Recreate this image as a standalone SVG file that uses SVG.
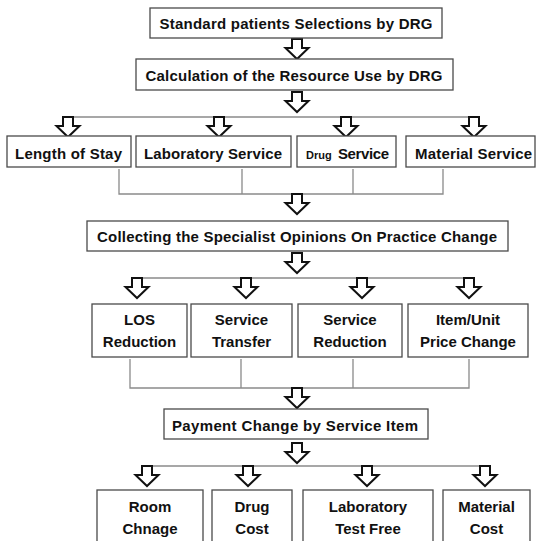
<svg xmlns="http://www.w3.org/2000/svg" xmlns:xlink="http://www.w3.org/1999/xlink" width="538" height="541" viewBox="0 0 538 541">
<style>
.box{fill:#fff;stroke:#4a4a4a;stroke-width:1.3}
.t{font-family:"Liberation Sans",Arial,sans-serif;font-weight:bold;font-size:15px;fill:#111;text-anchor:middle}
.line{fill:none;stroke:#8a8a8a;stroke-width:1.3}
.arr{fill:#fff;stroke:#111;stroke-width:2;stroke-linejoin:miter}
</style>
<defs>
<path id="arr" d="M-5,0 H5 V9 H11.5 L0,20 L-11.5,9 H-5 Z"/>
</defs>
<rect width="538" height="541" fill="#fff"/>
<g id="connectors">
<use xlink:href="#arr" class="arr" x="297" y="39"/>
<use xlink:href="#arr" class="arr" x="297" y="92"/>
<path class="line" d="M68,117 H474"/>
<use xlink:href="#arr" class="arr" x="68" y="117"/>
<use xlink:href="#arr" class="arr" x="219" y="117"/>
<use xlink:href="#arr" class="arr" x="346" y="117"/>
<use xlink:href="#arr" class="arr" x="474" y="117"/>
<path class="line" d="M119,169 V194 H443 V169 M242,169 V194 M353,169 V194"/>
<use xlink:href="#arr" class="arr" x="297" y="194"/>
<use xlink:href="#arr" class="arr" x="297" y="253"/>
<path class="line" d="M137,278 H469"/>
<use xlink:href="#arr" class="arr" x="137" y="278"/>
<use xlink:href="#arr" class="arr" x="246" y="278"/>
<use xlink:href="#arr" class="arr" x="362" y="278"/>
<use xlink:href="#arr" class="arr" x="469" y="278"/>
<path class="line" d="M130,359 V388 H469 V359 M241,359 V388 M353,359 V388"/>
<use xlink:href="#arr" class="arr" x="297" y="388"/>
<use xlink:href="#arr" class="arr" x="297" y="443"/>
<path class="line" d="M147,466 H485"/>
<use xlink:href="#arr" class="arr" x="147" y="466"/>
<use xlink:href="#arr" class="arr" x="248" y="466"/>
<use xlink:href="#arr" class="arr" x="367" y="466"/>
<use xlink:href="#arr" class="arr" x="485" y="466"/>
</g>
<g id="n1"><rect class="box" x="150" y="8" width="292" height="30"/><text class="t" x="296" y="29" textLength="273" lengthAdjust="spacing">Standard patients Selections by DRG</text></g>
<g id="n2"><rect class="box" x="136" y="59" width="317" height="31"/><text class="t" x="294" y="81" textLength="297" lengthAdjust="spacing">Calculation of the Resource Use by DRG</text></g>
<g id="n3"><rect class="box" x="7" y="136" width="124" height="31"/><text class="t" x="68.5" y="159" textLength="107" lengthAdjust="spacing">Length of Stay</text></g>
<g id="n4"><rect class="box" x="136" y="136" width="155" height="31"/><text class="t" x="213" y="159" textLength="138" lengthAdjust="spacing">Laboratory Service</text></g>
<g id="n5"><rect class="box" x="297" y="136" width="99" height="31"/><text class="t" x="306" y="159" style="text-anchor:start;font-size:11px">Drug</text><text class="t" x="338" y="159" style="text-anchor:start" textLength="51" lengthAdjust="spacing">Service</text></g>
<g id="n6"><rect class="box" x="406" y="136" width="129" height="31"/><text class="t" x="473.5" y="159" textLength="117" lengthAdjust="spacing">Material Service</text></g>
<g id="n7"><rect class="box" x="87" y="221" width="421" height="30"/><text class="t" x="297" y="242" textLength="400" lengthAdjust="spacing">Collecting the Specialist Opinions On Practice Change</text></g>
<g id="n8"><rect class="box" x="92" y="304" width="95" height="53"/><text class="t" x="139.5" y="325">LOS</text><text class="t" x="139.5" y="347">Reduction</text></g>
<g id="n9"><rect class="box" x="191" y="304" width="101" height="53"/><text class="t" x="241.5" y="325">Service</text><text class="t" x="241.5" y="347">Transfer</text></g>
<g id="n10"><rect class="box" x="298" y="304" width="104" height="53"/><text class="t" x="350" y="325">Service</text><text class="t" x="350" y="347">Reduction</text></g>
<g id="n11"><rect class="box" x="408" y="304" width="120" height="53"/><text class="t" x="468" y="325">Item/Unit</text><text class="t" x="468" y="347">Price Change</text></g>
<g id="n12"><rect class="box" x="164" y="409" width="264" height="30"/><text class="t" x="295" y="431" textLength="246" lengthAdjust="spacing">Payment Change by Service Item</text></g>
<g id="n13"><rect class="box" x="97" y="490" width="106" height="60"/><text class="t" x="150" y="512">Room</text><text class="t" x="150" y="534">Chnage</text></g>
<g id="n14"><rect class="box" x="212" y="490" width="80" height="60"/><text class="t" x="252" y="512">Drug</text><text class="t" x="252" y="534">Cost</text></g>
<g id="n15"><rect class="box" x="303" y="490" width="130" height="60"/><text class="t" x="368" y="512">Laboratory</text><text class="t" x="368" y="534">Test Free</text></g>
<g id="n16"><rect class="box" x="443" y="490" width="87" height="60"/><text class="t" x="486.5" y="512">Material</text><text class="t" x="486.5" y="534">Cost</text></g>
</svg>
